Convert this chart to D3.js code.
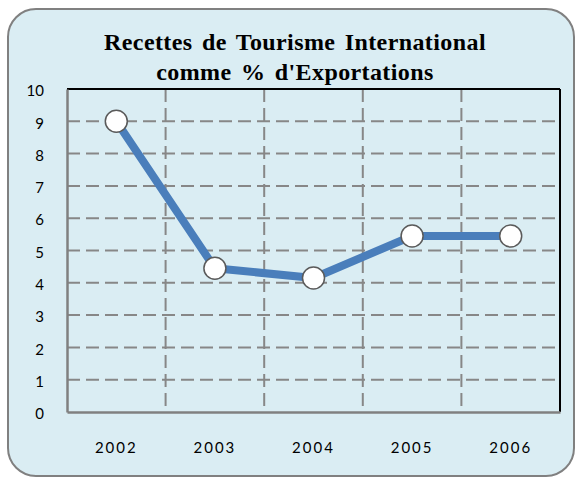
<!DOCTYPE html>
<html>
<head>
<meta charset="utf-8">
<script src="https://cdn.jsdelivr.net/npm/d3@7"></script>
<style>
  html, body { margin: 0; padding: 0; background: #ffffff; }
  svg { display: block; }
</style>
</head>
<body>
<svg id="chart" width="576" height="478"></svg>
<script>
// Tourism receipts as a share of exports, by year
const years = ["2002", "2003", "2004", "2005", "2006"];
const receiptsPct = [9.0, 4.45, 4.15, 5.45, 5.45];
const yTicks = [0, 1, 2, 3, 4, 5, 6, 7, 8, 9, 10];
const titleLines = ["Recettes de Tourisme International", "comme % d'Exportations"];

const svg = d3.select("#chart");
const plot = { left: 67, right: 560, top: 89, bottom: 412 };

// Panel background
svg.append("rect")
  .attr("x", 8).attr("y", 9)
  .attr("width", 566).attr("height", 467)
  .attr("rx", 28).attr("ry", 28)
  .attr("fill", "#daedf3")
  .attr("stroke", "#808080")
  .attr("stroke-width", 2);

// Title
const title = svg.append("text")
  .attr("text-anchor", "middle")
  .attr("font-family", "'Liberation Serif', 'DejaVu Serif', serif")
  .attr("font-weight", "bold")
  .attr("font-size", 24)
  .attr("letter-spacing", "0.4px")
  .attr("word-spacing", "3px")
  .attr("fill", "#000");
titleLines.forEach((t, i) => {
  title.append("tspan").attr("x", 295).attr("y", 50 + i * 30).text(t);
});

const x = d3.scaleBand().domain(years).range([plot.left, plot.right]);
const y = d3.scaleLinear().domain([0, 10]).range([plot.bottom, plot.top]);

const gridColor = "#878787";

// Horizontal dashed grid
svg.append("g")
  .selectAll("line")
  .data(yTicks.filter(v => v > 0 && v < 10))
  .join("line")
  .attr("x1", plot.left).attr("x2", plot.right)
  .attr("y1", d => y(d)).attr("y2", d => y(d))
  .attr("stroke", gridColor)
  .attr("stroke-width", 2)
  .attr("stroke-dasharray", "13,6");

// Vertical dashed grid between categories
svg.append("g")
  .selectAll("line")
  .data(years.slice(1))
  .join("line")
  .attr("x1", d => x(d)).attr("x2", d => x(d))
  .attr("y1", plot.top).attr("y2", plot.bottom)
  .attr("stroke", gridColor)
  .attr("stroke-width", 2)
  .attr("stroke-dasharray", "13,6");

// Plot frame: gray axes on left/bottom, black on top/right
svg.append("line")
  .attr("x1", plot.left).attr("x2", plot.right)
  .attr("y1", plot.top).attr("y2", plot.top)
  .attr("stroke", "#000").attr("stroke-width", 2);
svg.append("line")
  .attr("x1", plot.right).attr("x2", plot.right)
  .attr("y1", plot.top).attr("y2", plot.bottom)
  .attr("stroke", "#000").attr("stroke-width", 2);

const yAxis = d3.axisLeft(y).tickValues(yTicks).tickSize(0).tickPadding(23).tickFormat(d3.format("d"));
const gy = svg.append("g").attr("transform", `translate(${plot.left},0)`).call(yAxis);
gy.select(".domain").attr("stroke", "#808080").attr("stroke-width", 2.5);
gy.selectAll("text")
  .attr("font-family", "Lato, 'DejaVu Sans', sans-serif")
  .attr("font-size", 15)
  .attr("fill", "#000")
  .attr("dy", "0.45em");

const xAxis = d3.axisBottom(x).tickSize(0).tickPadding(30);
const gx = svg.append("g").attr("transform", `translate(0,${plot.bottom})`).call(xAxis);
gx.select(".domain").attr("stroke", "#808080").attr("stroke-width", 2.5);
gx.selectAll("text")
  .attr("font-family", "Lato, 'DejaVu Sans', sans-serif")
  .attr("font-size", 15)
  .attr("letter-spacing", "2px")
  .attr("fill", "#000");

// Series line
const pts = years.map((yr, i) => ({ yr, v: receiptsPct[i] }));
const line = d3.line()
  .x(d => x(d.yr) + x.bandwidth() / 2)
  .y(d => y(d.v));

svg.append("path")
  .datum(pts)
  .attr("d", line)
  .attr("fill", "none")
  .attr("stroke", "#4a7ebb")
  .attr("stroke-width", 8)
  .attr("stroke-linejoin", "round");

// Markers
svg.append("g")
  .selectAll("circle")
  .data(pts)
  .join("circle")
  .attr("cx", d => x(d.yr) + x.bandwidth() / 2)
  .attr("cy", d => y(d.v))
  .attr("r", 11)
  .attr("fill", "#ffffff")
  .attr("stroke", "#5a5a5a")
  .attr("stroke-width", 1.5);
</script>
</body>
</html>
